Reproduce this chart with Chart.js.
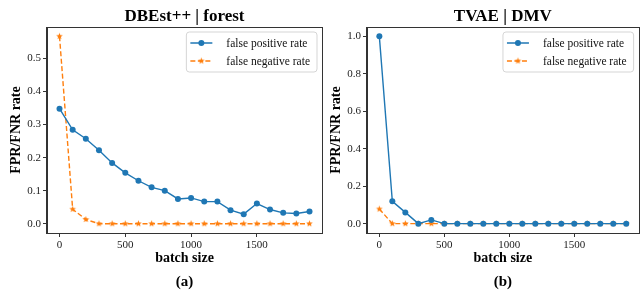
<!DOCTYPE html>
<html>
<head>
<meta charset="utf-8">
<script src="https://cdn.jsdelivr.net/npm/chart.js@4"></script>
<style>
  body { margin: 0; background: #fff; }
  #wrap { position: relative; width: 642px; height: 291px; overflow: hidden; }
  canvas { position: absolute; top: 0; }
</style>
</head>
<body>
<div id="wrap">
  <canvas id="chartA" width="330" height="291" style="left:0px"></canvas>
  <canvas id="chartB" width="324" height="291" style="left:320px"></canvas>
</div>
<script>
// batch sizes on the x axis
var batchSizes = [0, 100, 200, 300, 400, 500, 600, 700, 800, 900, 1000, 1100, 1200, 1300, 1400, 1500, 1600, 1700, 1800, 1900];
var xTicks = [0, 500, 1000, 1500];

// (a) DBEst++ | forest
var fprA = [0.348, 0.284, 0.257, 0.222, 0.184, 0.154, 0.130, 0.110, 0.100, 0.075, 0.078, 0.067, 0.067, 0.041, 0.029, 0.061, 0.043, 0.033, 0.031, 0.037];
var fnrA = [0.567, 0.044, 0.013, 0, 0, 0, 0, 0, 0, 0, 0, 0, 0, 0, 0, 0, 0, 0, 0, 0];
var yTicksA = [0, 0.1, 0.2, 0.3, 0.4, 0.5];

// (b) TVAE | DMV
var fprB = [1.0, 0.119, 0.060, 0, 0.020, 0, 0, 0, 0, 0, 0, 0, 0, 0, 0, 0, 0, 0, 0, 0];
var fnrB = [0.078, 0, 0, 0, 0, 0, 0, 0, 0, 0, 0, 0, 0, 0, 0, 0, 0, 0, 0, 0];
var yTicksB = [0, 0.2, 0.4, 0.6, 0.8, 1.0];

var BLUE = "#1f77b4";
var ORANGE = "#ff7f0e";
var SERIF = "'Liberation Serif', 'Times New Roman', serif";

// filled star like matplotlib's '*' marker
function makeStar(color, r) {
    var c = document.createElement("canvas");
    var s = Math.ceil(r * 2 + 2);
    c.width = s; c.height = s;
    var ctx = c.getContext("2d");
    ctx.beginPath();
    for (var i = 0; i < 10; i++) {
        var rad = (i % 2 === 0) ? r : r * 0.42;
        var a = -Math.PI / 2 + i * Math.PI / 5;
        var px = s / 2 + rad * Math.cos(a), py = s / 2 + rad * Math.sin(a);
        if (i === 0) ctx.moveTo(px, py); else ctx.lineTo(px, py);
    }
    ctx.closePath();
    ctx.fillStyle = color;
    ctx.fill();
    return c;
}
var starImg = makeStar(ORANGE, 3.5);

function toPoints(vals) {
    return batchSizes.map(function (b, i) { return { x: b, y: vals[i] }; });
}

// full box round the plot area, like matplotlib spines
var frame = {
    id: "frame",
    afterDatasetsDraw: function (chart) {
        var a = chart.chartArea, ctx = chart.ctx;
        ctx.save();
        ctx.strokeStyle = "#333";
        ctx.lineWidth = 1;
        ctx.strokeRect(Math.round(a.left) - 0.5, Math.round(a.top) + 0.5, Math.round(a.right - a.left) + 1, Math.round(a.bottom - a.top));
        ctx.restore();
    }
};

// legend drawn inside the plot area, top right
var innerLegend = {
    id: "innerLegend",
    afterDraw: function (chart) {
        var ctx = chart.ctx;
        var area = chart.chartArea;
        var sets = chart.data.datasets;
        ctx.save();
        ctx.font = "11.5px " + SERIF;
        var maxW = 0;
        sets.forEach(function (d) { maxW = Math.max(maxW, ctx.measureText(d.label).width); });
        var w = 40 + maxW + 7, h = 40;
        var x0 = area.right - 5 - w, y0 = area.top + 5;
        ctx.beginPath();
        ctx.roundRect(x0, y0, w, h, 3);
        ctx.fillStyle = "rgba(255,255,255,0.8)";
        ctx.fill();
        ctx.strokeStyle = "#d5d5d5";
        ctx.lineWidth = 1;
        ctx.stroke();
        sets.forEach(function (d, i) {
            var yy = y0 + 11 + i * 18;
            ctx.beginPath();
            ctx.setLineDash(d.borderDash || []);
            ctx.strokeStyle = d.borderColor;
            ctx.lineWidth = 1.5;
            ctx.moveTo(x0 + 4, yy);
            ctx.lineTo(x0 + 26, yy);
            ctx.stroke();
            ctx.setLineDash([]);
            if (d.pointStyle === "circle") {
                ctx.beginPath();
                ctx.arc(x0 + 15, yy, 3, 0, Math.PI * 2);
                ctx.fillStyle = d.borderColor;
                ctx.fill();
            } else {
                ctx.drawImage(d.pointStyle, x0 + 15 - d.pointStyle.width / 2, yy - d.pointStyle.height / 2);
            }
            ctx.fillStyle = "#111";
            ctx.textBaseline = "middle";
            ctx.textAlign = "left";
            ctx.fillText(d.label, x0 + 40, yy + 0.5);
        });
        ctx.restore();
    }
};

function makeChart(id, title, caption, fpr, fnr, yTicks, yMin, yMax, padRight) {
    return new Chart(document.getElementById(id), {
        type: "line",
        data: {
            datasets: [{
                label: "false positive rate",
                data: toPoints(fpr),
                borderColor: BLUE,
                backgroundColor: BLUE,
                borderWidth: 1.4,
                pointStyle: "circle",
                pointRadius: 3,
                pointBorderWidth: 0,
                tension: 0
            }, {
                label: "false negative rate",
                data: toPoints(fnr),
                borderColor: ORANGE,
                backgroundColor: ORANGE,
                borderWidth: 1.4,
                borderDash: [5, 2.5],
                pointStyle: starImg,
                tension: 0
            }]
        },
        options: {
            responsive: false,
            animation: false,
            devicePixelRatio: 1,
            layout: { padding: { left: 0, right: padRight, top: 0, bottom: 0 } },
            plugins: {
                legend: { display: false },
                tooltip: { enabled: false },
                title: {
                    display: true,
                    text: title,
                    fullSize: false,
                    color: "#000",
                    font: { family: SERIF, size: 17, weight: "bold", lineHeight: 1 },
                    padding: { top: 8, bottom: 2 }
                },
                subtitle: {
                    display: true,
                    text: caption,
                    position: "bottom",
                    fullSize: false,
                    color: "#000",
                    font: { family: SERIF, size: 15, weight: "bold", lineHeight: 1 },
                    padding: { top: 8, bottom: 1 }
                }
            },
            scales: {
                x: {
                    type: "linear",
                    min: -95,
                    max: 1995,
                    afterBuildTicks: function (s) { s.ticks = xTicks.map(function (v) { return { value: v }; }); },
                    afterFit: function (s) { s.height = 34; },
                    border: { color: "#333", width: 1 },
                    grid: { drawOnChartArea: false, tickLength: 4, tickColor: "#333" },
                    ticks: {
                        color: "#222", padding: 2, maxRotation: 0,
                        font: { family: SERIF, size: 11 },
                        callback: function (v) { return String(v); }
                    },
                    title: {
                        display: true, text: "batch size", color: "#000",
                        font: { family: SERIF, size: 14, weight: "bold", lineHeight: 1 },
                        padding: { top: 0, bottom: 2 }
                    }
                },
                y: {
                    min: yMin,
                    max: yMax,
                    afterBuildTicks: function (s) { s.ticks = yTicks.map(function (v) { return { value: v }; }); },
                    afterFit: function (s) { s.width = 47; },
                    border: { color: "#333", width: 1 },
                    grid: { drawOnChartArea: false, tickLength: 4, tickColor: "#333" },
                    ticks: {
                        color: "#222", padding: 2,
                        font: { family: SERIF, size: 11 },
                        callback: function (v) { return Number(v).toFixed(1); }
                    },
                    title: {
                        display: true, text: "FPR/FNR rate", color: "#000",
                        font: { family: SERIF, size: 14, weight: "bold", lineHeight: 1 },
                        padding: { top: 9, bottom: 0 }
                    }
                }
            }
        },
        plugins: [frame, innerLegend]
    });
}

makeChart("chartA", "DBEst++ | forest", "(a)", fprA, fnrA, yTicksA, -0.028, 0.595, 8);
makeChart("chartB", "TVAE | DMV", "(b)", fprB, fnrB, yTicksB, -0.05, 1.05, 0);
</script>
</body>
</html>
